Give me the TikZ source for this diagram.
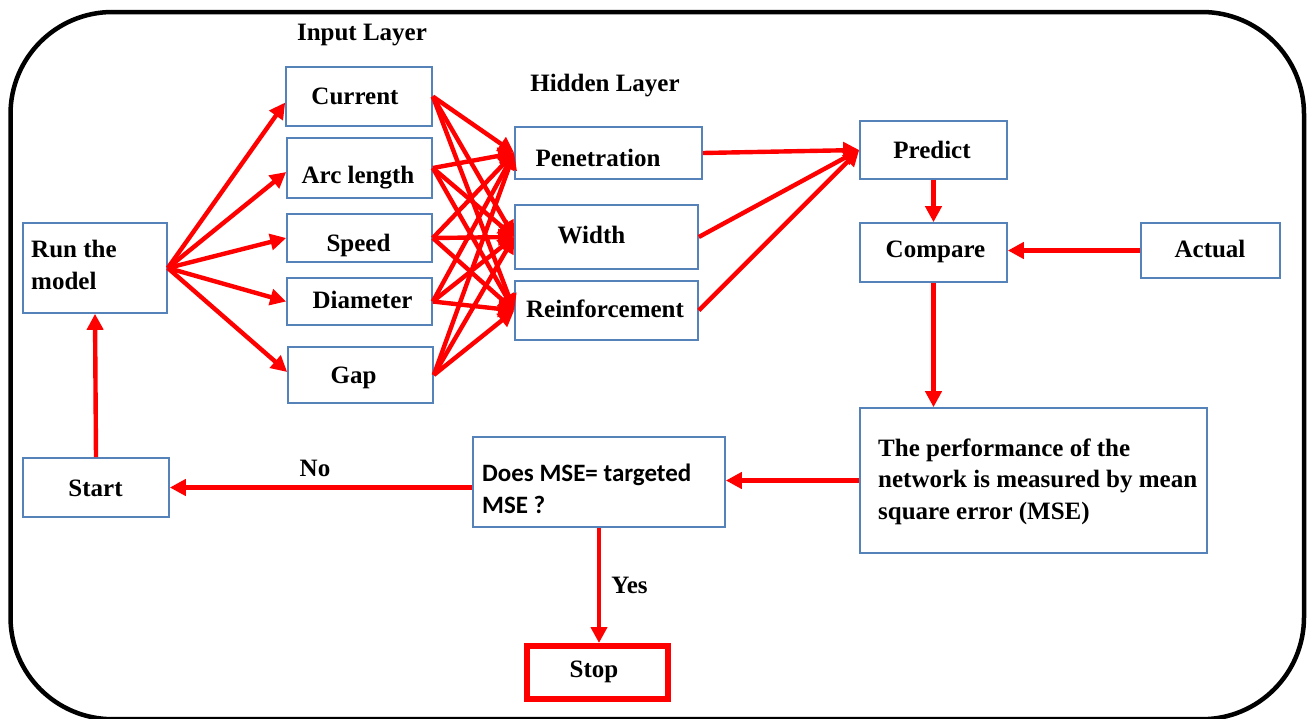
\documentclass[tikz,border=0pt]{standalone}
\usepackage{fontspec}
\setmainfont{Liberation Serif}
\newfontfamily\calfont{Carlito}
\usetikzlibrary{arrows.meta}
\definecolor{boxblue}{RGB}{85,130,185}
\begin{document}
\begin{tikzpicture}[x=1pt,y=-1pt,
 box/.style={draw=boxblue,line width=1.6pt,rectangle,inner sep=0pt},
 txt/.style={font=\fontsize{25}{31.5}\selectfont\bfseries,inner sep=0pt,text height=16.5pt,text depth=0pt},
 mtxt/.style={font=\fontsize{25}{31.5}\selectfont\bfseries,inner sep=0pt,align=left,anchor=west},
 arr/.style={draw=red,line width=4.4pt,-{Triangle[length=16pt,width=16pt]}}]
\useasboundingbox (0,0) rectangle (1309,718);
\draw[line width=4.5pt,rounded corners=102pt] (10.5,12) rectangle (1304,719.2);

% boxes
\node[box,minimum width=144pt,minimum height=90pt] (run) at (95,268) {};
\node[box,minimum width=146pt,minimum height=59pt] (cur) at (359,96.5) {};
\node[box,minimum width=145pt,minimum height=60pt] (arc) at (359.5,168) {};
\node[box,minimum width=145pt,minimum height=48pt] (spd) at (359.5,238) {};
\node[box,minimum width=145pt,minimum height=47pt] (dia) at (359.5,301.5) {};
\node[box,minimum width=145pt,minimum height=56pt] (gap) at (360.5,375) {};
\node[box,minimum width=187pt,minimum height=52pt] (pen) at (608.5,153) {};
\node[box,minimum width=183pt,minimum height=64pt] (wid) at (606.5,237) {};
\node[box,minimum width=183pt,minimum height=59pt] (rei) at (606.5,310.5) {};
\node[box,minimum width=147pt,minimum height=58pt] (pre) at (933.5,150) {};
\node[box,minimum width=147pt,minimum height=59pt] (cmp) at (933.5,252.5) {};
\node[box,minimum width=139pt,minimum height=55pt] (act) at (1210.5,250.5) {};
\node[box,minimum width=347pt,minimum height=145pt] (perf) at (1033.5,480.5) {};
\node[box,minimum width=252pt,minimum height=90pt] (does) at (599,482) {};
\node[box,minimum width=146pt,minimum height=59pt] (start) at (96,487.5) {};
\node[draw=red,line width=6pt,rectangle,inner sep=0pt,minimum width=141pt,minimum height=53pt] (stop) at (597.5,672.5) {};

% texts
\node[txt] (tin) at (362,32) {Input Layer};
\node[txt] (thid) at (605,83) {Hidden Layer};
\node[txt] at (355,96) {Current};
\node[txt] at (358,175) {Arc length};
\node[txt] at (358.5,243) {Speed};
\node[txt] at (362.5,300) {Diameter};
\node[txt] at (353.5,375.5) {Gap};
\node[txt] at (598,158) {Penetration};
\node[txt] at (591.5,235.5) {Width};
\node[txt] at (605,309) {Reinforcement};
\node[txt] at (932,150) {Predict};
\node[txt] at (935.5,249.5) {Compare};
\node[txt] at (1210,249.5) {Actual};
\node[txt] at (95.5,488) {Start};
\node[txt] at (594,669.5) {Stop};
\node[txt] (yes) at (629.5,585) {Yes};
\node[txt] (no) at (315,468) {No};
\node[mtxt] at (31,265) {Run the\\model};
\node[mtxt] at (878,481.5) {The performance of the\\network is measured by mean\\square error (MSE)};
\node[mtxt,font=\calfont\fontsize{25}{31.5}\selectfont\bfseries] at (482,489) {Does MSE= targeted\\MSE ?};

% arrows: run to inputs
\draw[arr] (run.east) -- ([yshift=-6pt]cur.west);
\draw[arr] (run.east) -- ([yshift=-4pt]arc.west);
\draw[arr] (run.east) -- (spd.west);
\draw[arr] (run.east) -- (dia.west);
\draw[arr] (run.east) -- ([yshift=3pt]gap.west);

% inputs to hidden
\foreach \i in {cur,arc,spd,dia,gap}{
  \foreach \h in {pen,wid,rei}{
    \draw[arr] (\i.east) -- (\h.west);
  }
}

% hidden to predict
\draw[arr] (pen.east) -- (pre.west);
\draw[arr] (wid.east) -- (pre.west);
\draw[arr] (rei.east) -- (pre.west);

\draw[arr] (pre.south) -- (cmp.north);
\draw[arr] (act.west) -- (act.west -| cmp.east);
\draw[arr] (cmp.south) -- (cmp.south |- perf.north);
\draw[arr] (perf.west) -- (perf.west -| does.east);
\draw[arr] (start.east -| does.west) -- (start.east);
\draw[arr] (does.south) -- (does.south |- stop.north);
\draw[arr] (start.north) -- (run.south);
\end{tikzpicture}
\end{document}
